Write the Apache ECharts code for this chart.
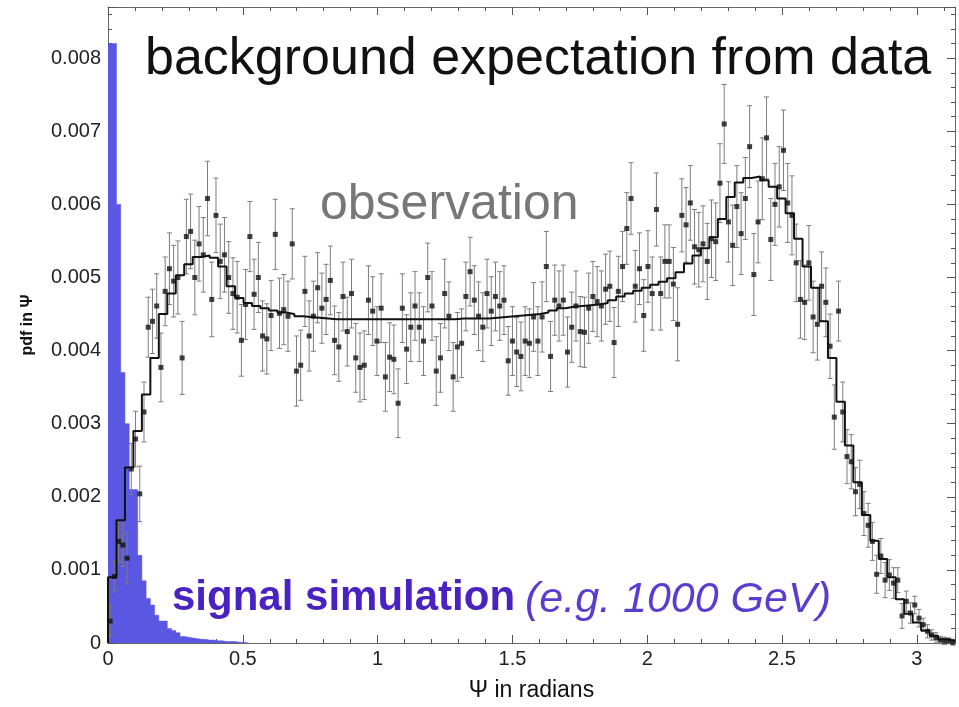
<!DOCTYPE html>
<html><head><meta charset="utf-8">
<script src="https://cdn.jsdelivr.net/npm/echarts@6/dist/echarts.min.js"></script>
<style>html,body{margin:0;padding:0;background:#fff}#c{width:959px;height:707px}</style>
</head><body><div id="c"></div>
<script>
// ---- data ----
const xMax = Math.PI;
const xTickStep = 0.5;
const yMax = 0.0087;
const yTickStep = 0.001;

// signal simulation histogram (bins of pi/200 starting at 0)
const signal = [0.0082,0.0082,0.0060,0.0037,0.0030,0.0021,0.0021,0.0012,0.00085,0.00061,
  0.00052,0.00038,0.0003,0.0003,0.0002,0.00017,0.00014,0.00009,0.00008,0.00007,
  0.00006,0.00005,0.00005,0.00004,0.00004,0.00003,0.00003,0.00002,0.00002,0.00002,
  0.00001,0.00001,0.00001];

// background expectation (step curve, bins of pi/100)
const expectation = [0.0009,0.00168,0.0024,0.0029,0.0034,0.0039,0.0045,0.00478,0.00503,0.00518,
  0.00528,0.0053,0.00527,0.00515,0.00488,0.00472,0.00465,0.00461,0.00458,0.00455,
  0.00452,0.0045,0.00447,0.00446,0.00445,0.00444,0.00443,0.00443,0.00443,0.00443,
  0.00443,0.00443,0.00443,0.00443,0.00443,0.00443,0.00443,0.00443,0.00443,0.00443,
  0.00443,0.00444,0.00444,0.00444,0.00444,0.00445,0.00446,0.00447,0.00448,0.00449,
  0.0045,0.00452,0.00455,0.00458,0.0046,0.00461,0.00462,0.00463,0.00465,0.00469,
  0.00474,0.00478,0.00482,0.00486,0.0049,0.00494,0.00499,0.00507,0.00519,0.0053,
  0.0054,0.00555,0.0058,0.0061,0.0063,0.00636,0.00638,0.00633,0.00624,0.00608,
  0.00588,0.00553,0.00515,0.00486,0.0044,0.0039,0.0033,0.0027,0.0022,0.00175,
  0.0014,0.00115,0.0009,0.0006,0.0004,0.00028,0.00017,0.0001,0.00005,0.00003];

// half length of error bars (per expectation bin)
const errHalf = [0.00021,0.00029,0.00035,0.00038,0.00041,0.00044,0.00047,0.00049,0.0005,0.00051,
  0.00051,0.00051,0.00051,0.00051,0.00049,0.00049,0.00048,0.00048,0.00048,0.00048,
  0.00048,0.00048,0.00048,0.00048,0.00048,0.00048,0.00047,0.00047,0.00047,0.00047,
  0.00047,0.00047,0.00047,0.00047,0.00047,0.00047,0.00047,0.00047,0.00047,0.00047,
  0.00047,0.00047,0.00047,0.00047,0.00047,0.00047,0.00047,0.00047,0.00047,0.00047,
  0.00047,0.00048,0.00048,0.00048,0.00048,0.00048,0.00048,0.00048,0.00048,0.00048,
  0.00048,0.00049,0.00049,0.00049,0.0005,0.0005,0.0005,0.0005,0.00051,0.00051,
  0.00052,0.00053,0.00054,0.00055,0.00056,0.00056,0.00056,0.00056,0.00056,0.00055,
  0.00054,0.00053,0.00051,0.00049,0.00047,0.00044,0.00041,0.00037,0.00033,0.0003,
  0.00026,0.00024,0.00021,0.00017,0.00014,0.00012,0.00009,0.00007,0.00005,0.00004];

// observation (bins of pi/200)
const observed = [0.0003,0.00091,0.00139,0.00134,0.00116,0.00238,0.00279,0.00204,0.00316,0.00432,
  0.0044,0.00461,0.00377,0.00481,0.00512,0.00495,0.005,0.0039,0.00556,0.00563,
  0.005,0.00546,0.00531,0.00608,0.0047,0.00585,0.00522,0.00531,0.005,0.00478,
  0.00473,0.00414,0.00463,0.00556,0.00477,0.005,0.0042,0.00416,0.00448,0.00559,
  0.00451,0.00456,0.00447,0.00546,0.00372,0.0038,0.00481,0.0042,0.00447,0.00486,
  0.00458,0.0047,0.00496,0.00414,0.00405,0.00474,0.00426,0.00478,0.0039,0.00377,
  0.0038,0.00469,0.00454,0.00413,0.00458,0.00364,0.00391,0.00388,0.00328,0.00458,
  0.00402,0.00432,0.00461,0.00432,0.00413,0.005,0.00461,0.00372,0.0039,0.00478,
  0.00447,0.00364,0.00405,0.0041,0.00474,0.00508,0.00469,0.00447,0.00432,0.00478,
  0.00454,0.00474,0.00461,0.00469,0.00386,0.00413,0.00398,0.00392,0.00413,0.0041,
  0.00446,0.00413,0.00446,0.00515,0.00392,0.00469,0.00461,0.00469,0.00398,0.00432,
  0.00461,0.00426,0.00425,0.00458,0.00474,0.00467,0.00461,0.00484,0.00488,0.00411,
  0.00481,0.00515,0.00567,0.00608,0.00488,0.00512,0.00448,0.00515,0.00478,0.00593,
  0.00478,0.00522,0.00522,0.00491,0.00436,0.00585,0.00572,0.00602,0.00542,0.00538,
  0.00546,0.00522,0.00553,0.00549,0.00629,0.0071,0.00576,0.00544,0.00597,0.0056,
  0.00608,0.00679,0.00504,0.00576,0.00635,0.00691,0.00552,0.006,0.00624,0.00674,
  0.00602,0.00585,0.0052,0.0047,0.00466,0.0052,0.00446,0.00436,0.00488,0.00466,
  0.00406,0.00309,0.00454,0.00316,0.00255,0.00248,0.00207,0.00217,0.00177,0.00161,
  0.00139,0.00094,0.00119,0.00086,0.00093,0.00082,0.00086,0.00037,0.00057,0.00041,
  0.00052,0.00034,0.00025,0.00016,0.00011,0.00007,0.00004,0.00003,0.00003,0.00001];

// ---- build series data ----
const sigW = Math.PI / 200, expW = Math.PI / 100, obsW = Math.PI / 200;
const sigData = signal.map((v, i) => [i * sigW, v]);
sigData.push([signal.length * sigW, 0]);
const expData = expectation.map((v, i) => [i * expW, v]);
expData.unshift([0, 0]);
expData.push([expectation.length * expW, expectation[expectation.length - 1]]);
const obsData = observed.map((v, i) => [(i + 0.5) * obsW, v]);
const errData = observed.map((v, i) => {
  const e = errHalf[Math.floor(i / 2)];
  return [(i + 0.5) * obsW, v - e, v + e];
});

const FONT = '"Liberation Sans", Arial, sans-serif';
const fmtY = v => v === 0 ? '0' : String(+v.toFixed(4));
const fmtX = v => v === 0 ? '0' : String(+v.toFixed(2));

const axisCommon = () => ({
  axisLine: { show: true, onZero: false, lineStyle: { color: '#666', width: 1 } },
  axisTick: { show: true, inside: true, length: 8, lineStyle: { color: '#555', width: 1 } },
  minorTick: { show: true, splitNumber: 5, length: 4, lineStyle: { color: '#555', width: 1 } },
  splitLine: { show: false }
});

const chart = echarts.init(document.getElementById('c'));
chart.setOption({
  animation: false,
  backgroundColor: '#fff',
  grid: { left: 108, right: 4, top: 7, bottom: 62, containLabel: false },
  xAxis: [
    Object.assign({ type: 'value', min: 0, max: xMax, interval: xTickStep, position: 'bottom',
      axisLabel: { show: true, formatter: fmtX, showMaxLabel: false, color: '#222', fontSize: 20, fontFamily: FONT, margin: 6 },
      name: 'Ψ in radians', nameLocation: 'middle', nameGap: 36,
      nameTextStyle: { fontFamily: FONT, fontSize: 23, color: '#111' } }, axisCommon()),
    Object.assign({ type: 'value', min: 0, max: xMax, interval: xTickStep, position: 'top',
      axisLabel: { show: false } }, axisCommon())
  ],
  yAxis: [
    Object.assign({ type: 'value', min: 0, max: yMax, interval: yTickStep, position: 'left',
      axisLabel: { show: true, formatter: fmtY, showMaxLabel: false, color: '#222', fontSize: 20, fontFamily: FONT, margin: 7 },
      name: 'pdf in Ψ', nameLocation: 'middle', nameGap: 72, nameRotate: 90,
      nameTextStyle: { fontFamily: FONT, fontSize: 16, fontWeight: 'bold', color: '#111' } }, axisCommon()),
    Object.assign({ type: 'value', min: 0, max: yMax, interval: yTickStep, position: 'right',
      axisLabel: { show: false } }, axisCommon())
  ],
  series: [
    {
      name: 'signal', type: 'line', step: 'end', data: sigData, symbol: 'none',
      lineStyle: { width: 0.5, color: '#5553dd' },
      areaStyle: { color: '#5a58e2', opacity: 1 }, z: 1
    },
    {
      name: 'errors', type: 'custom', data: errData, z: 2,
      renderItem: (params, api) => {
        const top = api.coord([api.value(0), api.value(2)]);
        const bot = api.coord([api.value(0), api.value(1)]);
        const cap = 2.5;
        const st = { stroke: '#7d7d7d', lineWidth: 1 };
        return { type: 'group', children: [
          { type: 'line', shape: { x1: top[0], y1: top[1], x2: bot[0], y2: bot[1] }, style: st },
          { type: 'line', shape: { x1: top[0] - cap, y1: top[1], x2: top[0] + cap, y2: top[1] }, style: st },
          { type: 'line', shape: { x1: bot[0] - cap, y1: bot[1], x2: bot[0] + cap, y2: bot[1] }, style: st }
        ] };
      }
    },
    {
      name: 'expectation', type: 'line', step: 'end', data: expData, symbol: 'none',
      lineStyle: { width: 2, color: '#111' }, z: 3
    },
    {
      name: 'observation', type: 'scatter', data: obsData, symbol: 'rect', symbolSize: 5,
      itemStyle: { color: '#111' }, z: 4
    }
  ],
  graphic: [
    { type: 'text', x: 145, y: 60, z: 10, style: { text: 'background expectation from data', font: '52px ' + FONT, fill: '#111', align: 'left', verticalAlign: 'middle' } },
    { type: 'text', x: 320, y: 205, z: 10, style: { text: 'observation', font: '50px ' + FONT, fill: '#777', align: 'left', verticalAlign: 'middle' } },
    { type: 'text', x: 172, y: 598, z: 10, style: { text: 'signal simulation', font: 'bold 42px ' + FONT, fill: '#4a22c2', align: 'left', verticalAlign: 'middle' } },
    { type: 'text', x: 525, y: 600, z: 10, style: { text: '(e.g. 1000 GeV)', font: 'italic 43px ' + FONT, fill: '#5a3cd0', align: 'left', verticalAlign: 'middle' } }
  ]
});
</script></body></html>
